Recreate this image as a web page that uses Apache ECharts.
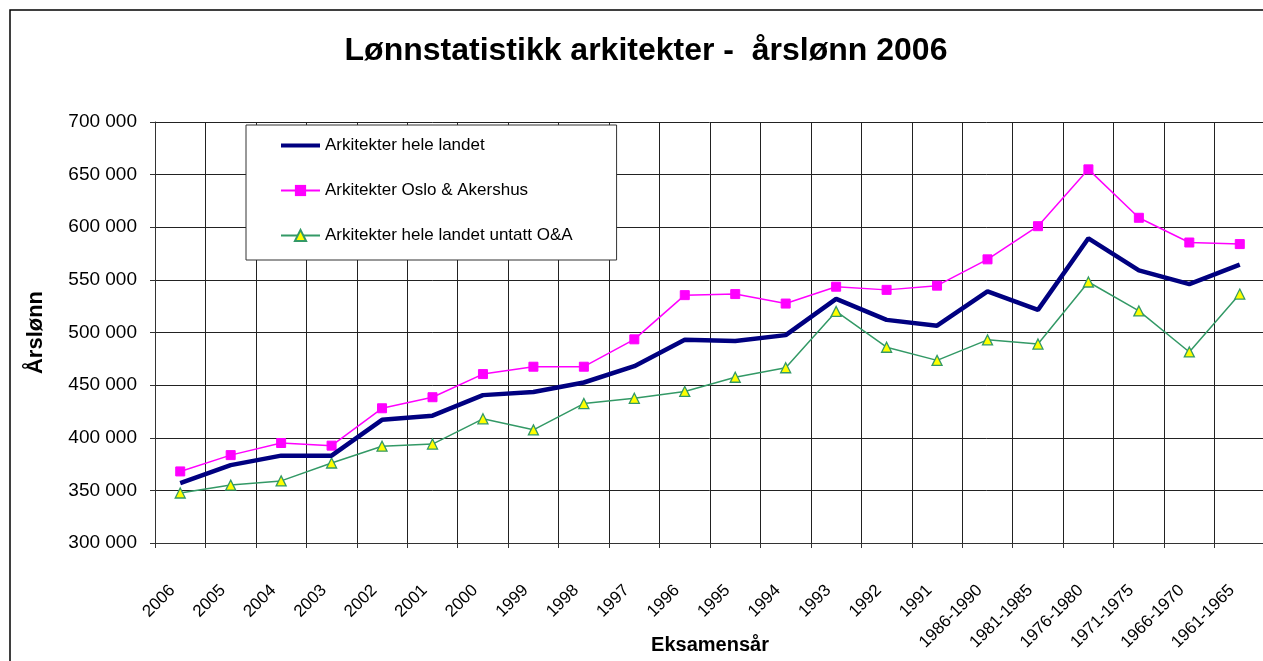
<!DOCTYPE html>
<html>
<head>
<meta charset="utf-8">
<title>Lønnstatistikk arkitekter</title>
<script src="https://cdn.jsdelivr.net/npm/echarts@6/dist/echarts.min.js"></script>
<style>
    html, body {margin: 0; padding: 0; background: #fff;}
    #main {width: 1263px; height: 661px;}
</style>
</head>
<body>
<div id="main"></div>
<script>
// 数据
var years = ['2006', '2005', '2004', '2003', '2002', '2001', '2000', '1999', '1998', '1997', '1996',
    '1995', '1994', '1993', '1992', '1991', '1986-1990', '1981-1985', '1976-1980', '1971-1975',
    '1966-1970', '1961-1965'];
var heleLandet = [357000, 374000, 383000, 383000, 417000, 421000, 440500, 443500, 452500, 468000, 493000,
    492000, 497500, 532000, 512000, 506500, 539000, 521500, 589500, 559000, 546000, 564500];
var osloAkershus = [368000, 383500, 395000, 392500, 428000, 438500, 460500, 467500, 467500, 493500, 535500,
    536500, 527500, 543500, 540500, 544500, 569500, 601000, 655000, 609000, 585500, 584000];
var untattOA = [347500, 355000, 359000, 376000, 392000, 394000, 418000, 407500, 432500, 437500, 444000,
    457500, 466500, 520000, 486000, 473500, 493000, 489000, 548000, 520500, 481500, 536500];
var yTicks = {min: 300000, max: 700000, interval: 50000};

(function () {
    var font = 'Arial, "Liberation Sans", sans-serif';
    var chart = echarts.init(document.getElementById('main'));

    var option = {
        backgroundColor: '#fff',
        animation: false,
        textStyle: {fontFamily: font, color: '#000'},
        title: {
            text: 'Lønnstatistikk arkitekter -  årslønn 2006',
            left: 641,
            textAlign: 'center',
            top: 30,
            textStyle: {fontFamily: font, fontSize: 32, fontWeight: 'bold', color: '#000'}
        },
        //外框
        graphic: [{
            type: 'rect',
            shape: {x: 10, y: 10, width: 1400, height: 800},
            style: {fill: 'none', stroke: '#000', lineWidth: 1.5},
            silent: true
        }],
        legend: {
            orient: 'vertical',
            left: 246,
            top: 125,
            padding: [12, 44, 16, 34],
            itemWidth: 39,
            itemHeight: 14,
            itemGap: 28,
            backgroundColor: '#fff',
            borderColor: '#333',
            borderWidth: 1,
            textStyle: {fontFamily: font, fontSize: 17, color: '#000'},
            data: [
                {name: 'Arkitekter hele landet', icon: 'path://M0,0 L39,0 L39,4 L0,4 Z'},
                'Arkitekter Oslo & Akershus',
                'Arkitekter hele landet untatt O&A'
            ]
        },
        grid: {left: 155, top: 122, width: 1110, height: 421, outerBoundsMode: 'none'},
        xAxis: {
            type: 'category',
            data: years,
            boundaryGap: true,
            name: 'Eksamensår',
            nameLocation: 'middle',
            nameGap: 92,
            nameMoveOverlap: false,
            nameTextStyle: {fontFamily: font, fontSize: 20, fontWeight: 'bold', color: '#000'},
            axisLine: {lineStyle: {color: '#333', width: 1}},
            axisTick: {show: true, length: 5, lineStyle: {color: '#333'}},
            axisLabel: {
                interval: 0,
                rotate: 45,
                margin: 37,
                padding: [0, 11, 0, 0],
                fontFamily: font,
                fontSize: 17,
                color: '#000'
            },
            splitLine: {show: true, interval: 0, lineStyle: {color: '#222', width: 1}}
        },
        yAxis: {
            type: 'value',
            min: yTicks.min,
            max: yTicks.max,
            interval: yTicks.interval,
            name: 'Årslønn',
            nameLocation: 'middle',
            nameRotate: 90,
            nameGap: 108,
            nameMoveOverlap: false,
            nameTextStyle: {fontFamily: font, fontSize: 22, fontWeight: 'bold', color: '#000'},
            axisLine: {show: true, lineStyle: {color: '#333', width: 1}},
            axisTick: {show: true, length: 5, lineStyle: {color: '#333'}},
            axisLabel: {
                margin: 18,
                fontFamily: font,
                fontSize: 19,
                color: '#000',
                formatter: function (v) {
                    return String(v).replace(/\B(?=(\d{3})+(?!\d))/g, ' ');
                }
            },
            splitLine: {show: true, lineStyle: {color: '#222', width: 1}}
        },
        series: [
            {
                name: 'Arkitekter hele landet',
                type: 'line',
                data: heleLandet,
                symbol: 'none',
                z: 4,
                lineStyle: {color: '#000080', width: 4.5},
                itemStyle: {color: '#000080'}
            },
            {
                name: 'Arkitekter Oslo & Akershus',
                type: 'line',
                data: osloAkershus,
                symbol: 'rect',
                symbolSize: 9,
                z: 3,
                lineStyle: {color: '#ff00ff', width: 1.5},
                itemStyle: {color: '#ff00ff', borderColor: '#ff00ff'}
            },
            {
                name: 'Arkitekter hele landet untatt O&A',
                type: 'line',
                data: untattOA,
                symbol: 'triangle',
                symbolSize: 10,
                z: 3,
                lineStyle: {color: '#339966', width: 1.5},
                itemStyle: {color: '#ffff00', borderColor: '#339966', borderWidth: 1.3}
            }
        ]
    };
    chart.setOption(option);
})();
</script>
</body>
</html>
